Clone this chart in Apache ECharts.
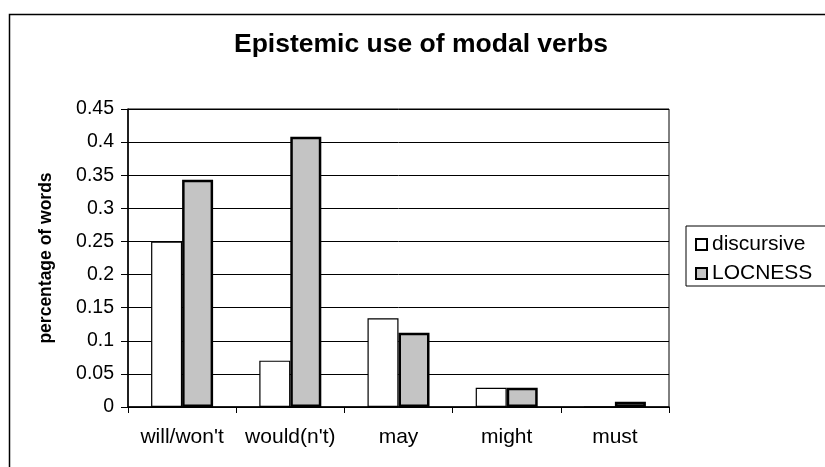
<!DOCTYPE html>
<html>
<head>
<meta charset="utf-8">
<script src="https://cdn.jsdelivr.net/npm/echarts@6/dist/echarts.min.js"></script>
<style>
html,body{margin:0;padding:0;background:#fff;}
#chart{width:825px;height:467px;}
</style>
</head>
<body>
<div id="chart"></div>
<script>
const categories = ["will/won't", "would(n't)", "may", "might", "must"];
const discursive = [0.25, 0.07, 0.134, 0.029, 0];
const locness = [0.343, 0.408, 0.112, 0.029, 0.008];
const yTicks = [0, 0.05, 0.1, 0.15, 0.2, 0.25, 0.3, 0.35, 0.4, 0.45];
const titleText = 'Epistemic use of modal verbs';
const yName = 'percentage of words';

const FONT = 'Liberation Sans';
const chart = echarts.init(document.getElementById('chart'), null, {renderer: 'canvas'});
chart.setOption({
  animation: false,
  backgroundColor: '#fff',
  textStyle: {fontFamily: FONT, color: '#000'},
  title: {
    text: titleText,
    left: 229, top: 26,
    textStyle: {fontFamily: FONT, fontSize: 26.5, fontWeight: 'bold', color: '#000'}
  },
  graphic: [{
    type: 'rect', left: 7, top: 12, z: -1,
    shape: {width: 830, height: 470},
    style: {fill: 'none', stroke: '#000', lineWidth: 1.5}
  }],
  legend: {
    orient: 'vertical',
    left: 686, top: 226,
    padding: [8, 40, 2, 9],
    itemGap: 8,
    itemWidth: 11, itemHeight: 11,
    icon: 'rect',
    borderColor: '#000', borderWidth: 1,
    backgroundColor: '#fff',
    textStyle: {fontFamily: FONT, fontSize: 21, color: '#000', lineHeight: 20},
    data: ['discursive', 'LOCNESS']
  },
  grid: {left: 128, top: 109, width: 541, height: 298, containLabel: false,
    show: true, borderColor: '#000', borderWidth: 1},
  xAxis: {
    type: 'category',
    data: categories,
    axisLine: {lineStyle: {color: '#000', width: 1.5}},
    axisTick: {show: true, length: 6, lineStyle: {color: '#000'}},
    axisLabel: {interval: 0, hideOverlap: false, fontFamily: FONT, fontSize: 21, color: '#000', margin: 20}
  },
  yAxis: {
    type: 'value',
    min: yTicks[0], max: yTicks[yTicks.length - 1], interval: 0.05,
    name: yName,
    nameLocation: 'middle',
    nameGap: 73,
    nameTextStyle: {fontFamily: FONT, fontSize: 17.5, fontWeight: 'bold', color: '#000'},
    axisLine: {show: true, lineStyle: {color: '#000', width: 1.5}},
    axisTick: {show: true, length: 7, lineStyle: {color: '#000'}},
    splitLine: {show: true, lineStyle: {color: '#000', width: 1}},
    axisLabel: {fontFamily: FONT, fontSize: 19.5, color: '#000', margin: 14,
      formatter: v => String(+v.toFixed(2))}
  },
  series: [
    {
      name: 'discursive', type: 'bar', data: discursive,
      barWidth: 31, barGap: '0%',
      itemStyle: {color: '#fff', borderColor: '#000', borderWidth: 1.2}
    },
    {
      name: 'LOCNESS', type: 'bar', data: locness,
      barWidth: 31,
      itemStyle: {color: '#c4c4c4', borderColor: '#000', borderWidth: 2.5}
    }
  ]
});
</script>
</body>
</html>
